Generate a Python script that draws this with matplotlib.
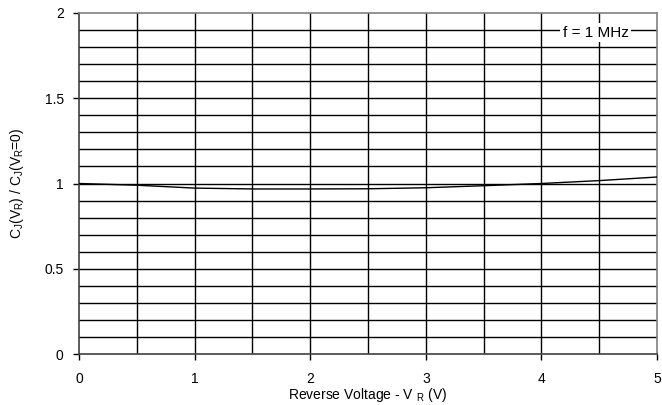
import numpy as np
import matplotlib
matplotlib.use("Agg")
import matplotlib.pyplot as plt

plt.rcParams['font.family'] = ['Liberation Sans', 'DejaVu Sans']
plt.rcParams['mathtext.fontset'] = 'custom'
plt.rcParams['mathtext.rm'] = 'Liberation Sans'
plt.rcParams['mathtext.it'] = 'Liberation Sans'

# Normalised junction capacitance vs reverse voltage
vr = [0, 0.5, 1.0, 1.5, 2.0, 2.5, 3.0, 3.5, 4.0, 4.5, 5.0]
cj_ratio = [1.0, 0.99, 0.973, 0.968, 0.968, 0.969, 0.975, 0.987, 1.0, 1.017, 1.038]

xticks = [0, 1, 2, 3, 4, 5]
yticks = [0, 0.5, 1, 1.5, 2]
ytick_labels = ['0', '0.5', '1', '1.5', '2']

fig = plt.figure(figsize=(6.62, 4.05), dpi=100)
ax = fig.add_axes([79 / 662, 1 - 354 / 405, (657 - 79) / 662, (354 - 13) / 405])

# grid
for gx in np.arange(0.5, 5.0, 0.5):
    ax.axvline(gx, color='black', lw=1.0, zorder=1)
for gy in np.arange(0.1, 2.0, 0.1):
    ax.axhline(gy, color='black', lw=1.0, zorder=1)

ax.plot(vr, cj_ratio, color='black', lw=1.0, zorder=3)

ax.set_xlim(0, 5)
ax.set_ylim(0, 2)
ax.set_xticks(xticks)
ax.set_xticklabels([str(t) for t in xticks])
ax.set_yticks(yticks)
ax.set_yticklabels(ytick_labels)
ax.tick_params(direction='out', length=4, width=1, labelsize=10, colors='black')
ax.tick_params(axis='x', pad=9)
ax.tick_params(axis='y', pad=7)

for s in ['top', 'right']:
    ax.spines[s].set_color('#808080')
for s in ['left', 'bottom']:
    ax.spines[s].set_color('#404040')
for s in ax.spines.values():
    s.set_linewidth(1.2)

ax.set_xlabel(r'Reverse Voltage - V $_{\rm R}$ (V)', fontsize=10, labelpad=0)
ax.set_ylabel(r'C$_{\rm J}$(V$_{\rm R}$) / C$_{\rm J}$(V$_{\rm R}$=0)', fontsize=10, labelpad=13)

ax.text(4.47, 1.885, 'f = 1 MHz', fontsize=11, ha='center', va='center',
        bbox=dict(facecolor='white', edgecolor='none', pad=2), zorder=4)

fig.savefig('out.png', dpi=100)
